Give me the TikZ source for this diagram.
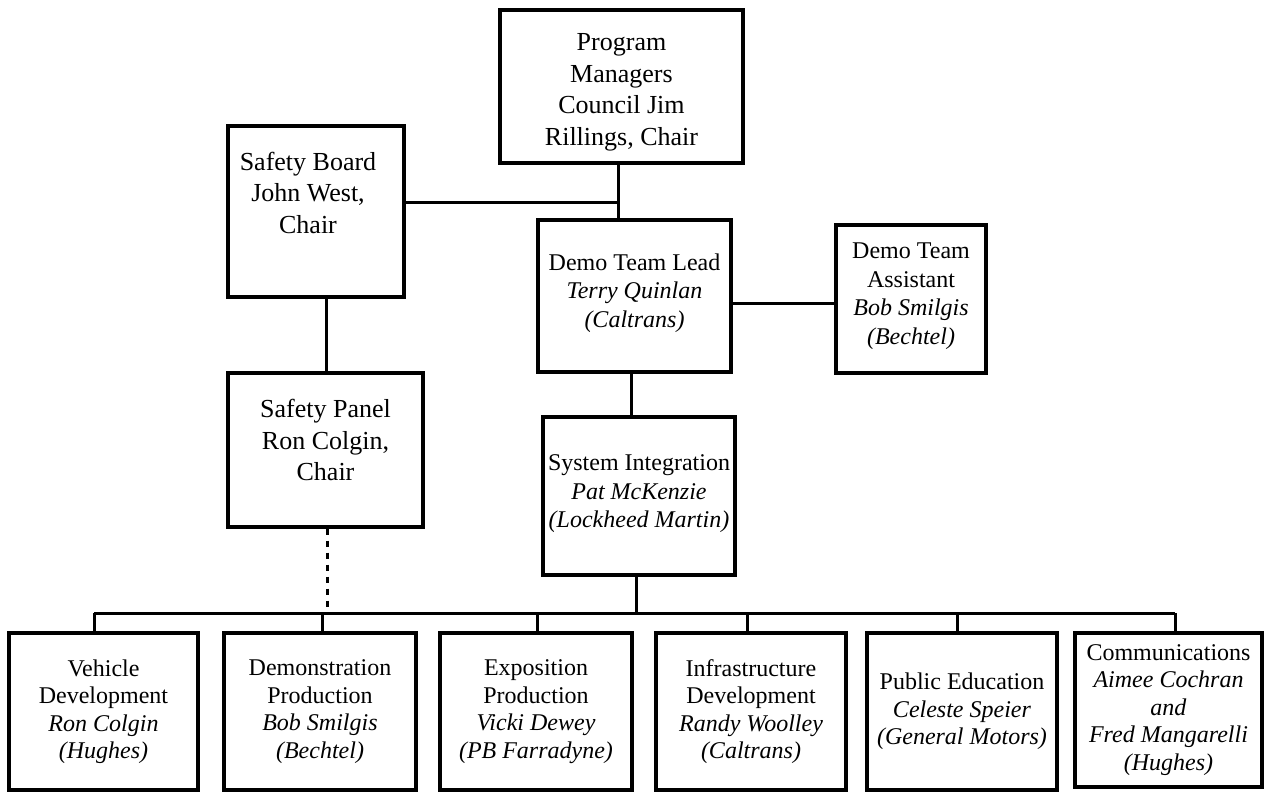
\documentclass[tikz,border=0pt]{standalone}
\usepackage{fontspec}
\setmainfont{Liberation Serif}
\begin{document}
\begin{tikzpicture}[x=1pt,y=1pt,
  box/.style 2 args={draw, line width=3.2pt, rectangle, inner sep=0pt,
    minimum width=#1pt, minimum height=#2pt},
  big/.style={align=center, font=\fontsize{26}{31.5}\selectfont},
  mid/.style={align=center, font=\fontsize{24}{28.5}\selectfont},
  row/.style={align=center, font=\fontsize{24}{27.5}\selectfont},
  wire/.style={line width=3pt},
  dotwire/.style={line width=3pt, dash pattern=on 6pt off 6pt}]
\useasboundingbox (0,0) rectangle (1264,-793);

% upper levels
\node[box={243}{153}, label={[big, yshift=-6pt]center:{Program\\Managers\\Council Jim\\Rillings, Chair}}] (pm) at (621.5,-86.5) {};
\node[box={176}{171}, label={[big, xshift=-8pt, yshift=19pt]center:{Safety Board\\John West,\\Chair}}] (sb) at (316,-211.5) {};
\node[box={193}{152}, label={[mid, yshift=3pt]center:{Demo Team Lead\\\textit{Terry Quinlan}\\\textit{(Caltrans)}}}] (dtl) at (634.5,-296) {};
\node[box={150}{148}, label={[mid, yshift=3pt]center:{Demo Team\\Assistant\\\textit{Bob Smilgis}\\\textit{(Bechtel)}}}] (dta) at (911,-299) {};
\node[box={195}{154}, label={[big, yshift=10pt]center:{Safety Panel\\Ron Colgin,\\Chair}}] (sp) at (325.5,-450) {};
\node[box={192}{158}, label={[mid, yshift=2pt]center:{System Integration\\\textit{Pat McKenzie}\\\textit{(Lockheed Martin)}}}] (si) at (639,-496) {};

% working groups
\node[box={189}{157}, label={[row]center:{Vehicle\\Development\\\textit{Ron Colgin}\\\textit{(Hughes)}}}] (vd) at (103.5,-711.5) {};
\node[box={192}{157}, label={[row]center:{Demonstration\\Production\\\textit{Bob Smilgis}\\\textit{(Bechtel)}}}] (dp) at (320,-711.5) {};
\node[box={192}{157}, label={[row]center:{Exposition\\Production\\\textit{Vicki Dewey}\\\textit{(PB Farradyne)}}}] (ep) at (536,-711.5) {};
\node[box={190}{157}, label={[row]center:{Infrastructure\\Development\\\textit{Randy Woolley}\\\textit{(Caltrans)}}}] (id) at (751,-711.5) {};
\node[box={190}{157}, label={[row]center:{Public Education\\\textit{Celeste Speier}\\\textit{(General Motors)}}}] (pe) at (962,-711.5) {};
\node[box={187}{154}, label={[row]center:{Communications\\\textit{Aimee Cochran}\\\textit{and}\\\textit{Fred Mangarelli}\\\textit{(Hughes)}}}] (cm) at (1168.5,-710) {};

% junction points
\coordinate (jpm) at (618,-202);
\coordinate (jdta) at (0,-303);
\coordinate (jsi) at (631,0);
\coordinate (jsb) at (326,0);
\coordinate (bsi) at (636,-613);
\coordinate (dsp) at (327,-613);
\coordinate (b1) at (94,-613);
\coordinate (b2) at (322,-613);
\coordinate (b3) at (537,-613);
\coordinate (b4) at (747,-613);
\coordinate (b5) at (957,-613);
\coordinate (b6) at (1175,-613);

% reporting lines
\draw[wire] (pm.south -| jpm) -- (dtl.north -| jpm);
\draw[wire] (sb.east |- jpm) -- (jpm);
\draw[wire] (dtl.east |- jdta) -- (dta.west |- jdta);
\draw[wire] (dtl.south -| jsi) -- (si.north -| jsi);
\draw[wire] (sb.south -| jsb) -- (sp.north -| jsb);
\draw[dotwire] (sp.south -| dsp) -- (dsp);
\draw[wire] (si.south -| bsi) -- (bsi);
\draw[wire] (b1) -- (b6);
\draw[wire] (b1) -- (vd.north -| b1);
\draw[wire] (b2) -- (dp.north -| b2);
\draw[wire] (b3) -- (ep.north -| b3);
\draw[wire] (b4) -- (id.north -| b4);
\draw[wire] (b5) -- (pe.north -| b5);
\draw[wire] (b6) -- (cm.north -| b6);
\end{tikzpicture}
\end{document}
